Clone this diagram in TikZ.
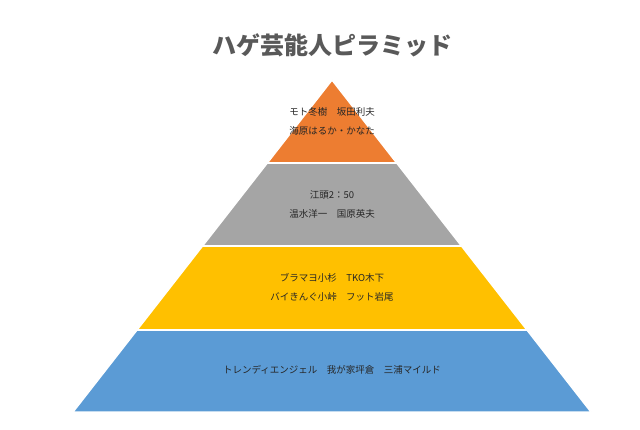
\documentclass[tikz,border=0pt]{standalone}
\usepackage{fontspec}
\setmainfont{Noto Sans CJK JP}
\usepackage{tikz}
\definecolor{tierorange}{HTML}{ED7D31}
\definecolor{tiergray}{HTML}{A5A5A5}
\definecolor{tieryellow}{HTML}{FFC000}
\definecolor{tierblue}{HTML}{5B9BD5}
\definecolor{titlegray}{HTML}{595959}

\begin{document}
\begin{tikzpicture}[x=1pt,y=-1pt]
\tikzstyle{band} = [draw=white, line width=1.5pt, line join=miter]
\tikzstyle{tiertext} = [align=center, font=\fontsize{9.5}{19}\selectfont, text=black!85]
\useasboundingbox (0,0) rectangle (640,430);

% Title
\node[font=\fontsize{24}{28}\selectfont\bfseries, text=titlegray] (title) at (332,45) {ハゲ芸能人ピラミッド};

% Bands
\fill[band, fill=tierorange] (332,80) -- (396.7,163) -- (267.3,163) -- cycle;
\fill[band, fill=tiergray] (267.3,163) -- (396.7,163) -- (461.5,246) -- (202.5,246) -- cycle;
\fill[band, fill=tieryellow] (202.5,246) -- (461.5,246) -- (527,330) -- (137,330) -- cycle;
\fill[band, fill=tierblue] (137,330) -- (527,330) -- (591,412) -- (73,412) -- cycle;
\draw[band] (267.3,163) -- (396.7,163);
\draw[band] (202.5,246) -- (461.5,246);
\draw[band] (137,330) -- (527,330);

% Labels
\node[tiertext] (top) at (332,121) {モト冬樹\quad 坂田利夫\\海原はるか・かなた};
\node[tiertext] (second) at (332,204) {江頭2：50\\温水洋一\quad 国原英夫};
\node[tiertext] (third) at (332,287) {ブラマヨ小杉\quad TKO木下\\バイきんぐ小峠\quad フット岩尾};
\node[tiertext] (base) at (332,370) {トレンディエンジェル\quad 我が家坪倉\quad 三浦マイルド};
\end{tikzpicture}
\end{document}
